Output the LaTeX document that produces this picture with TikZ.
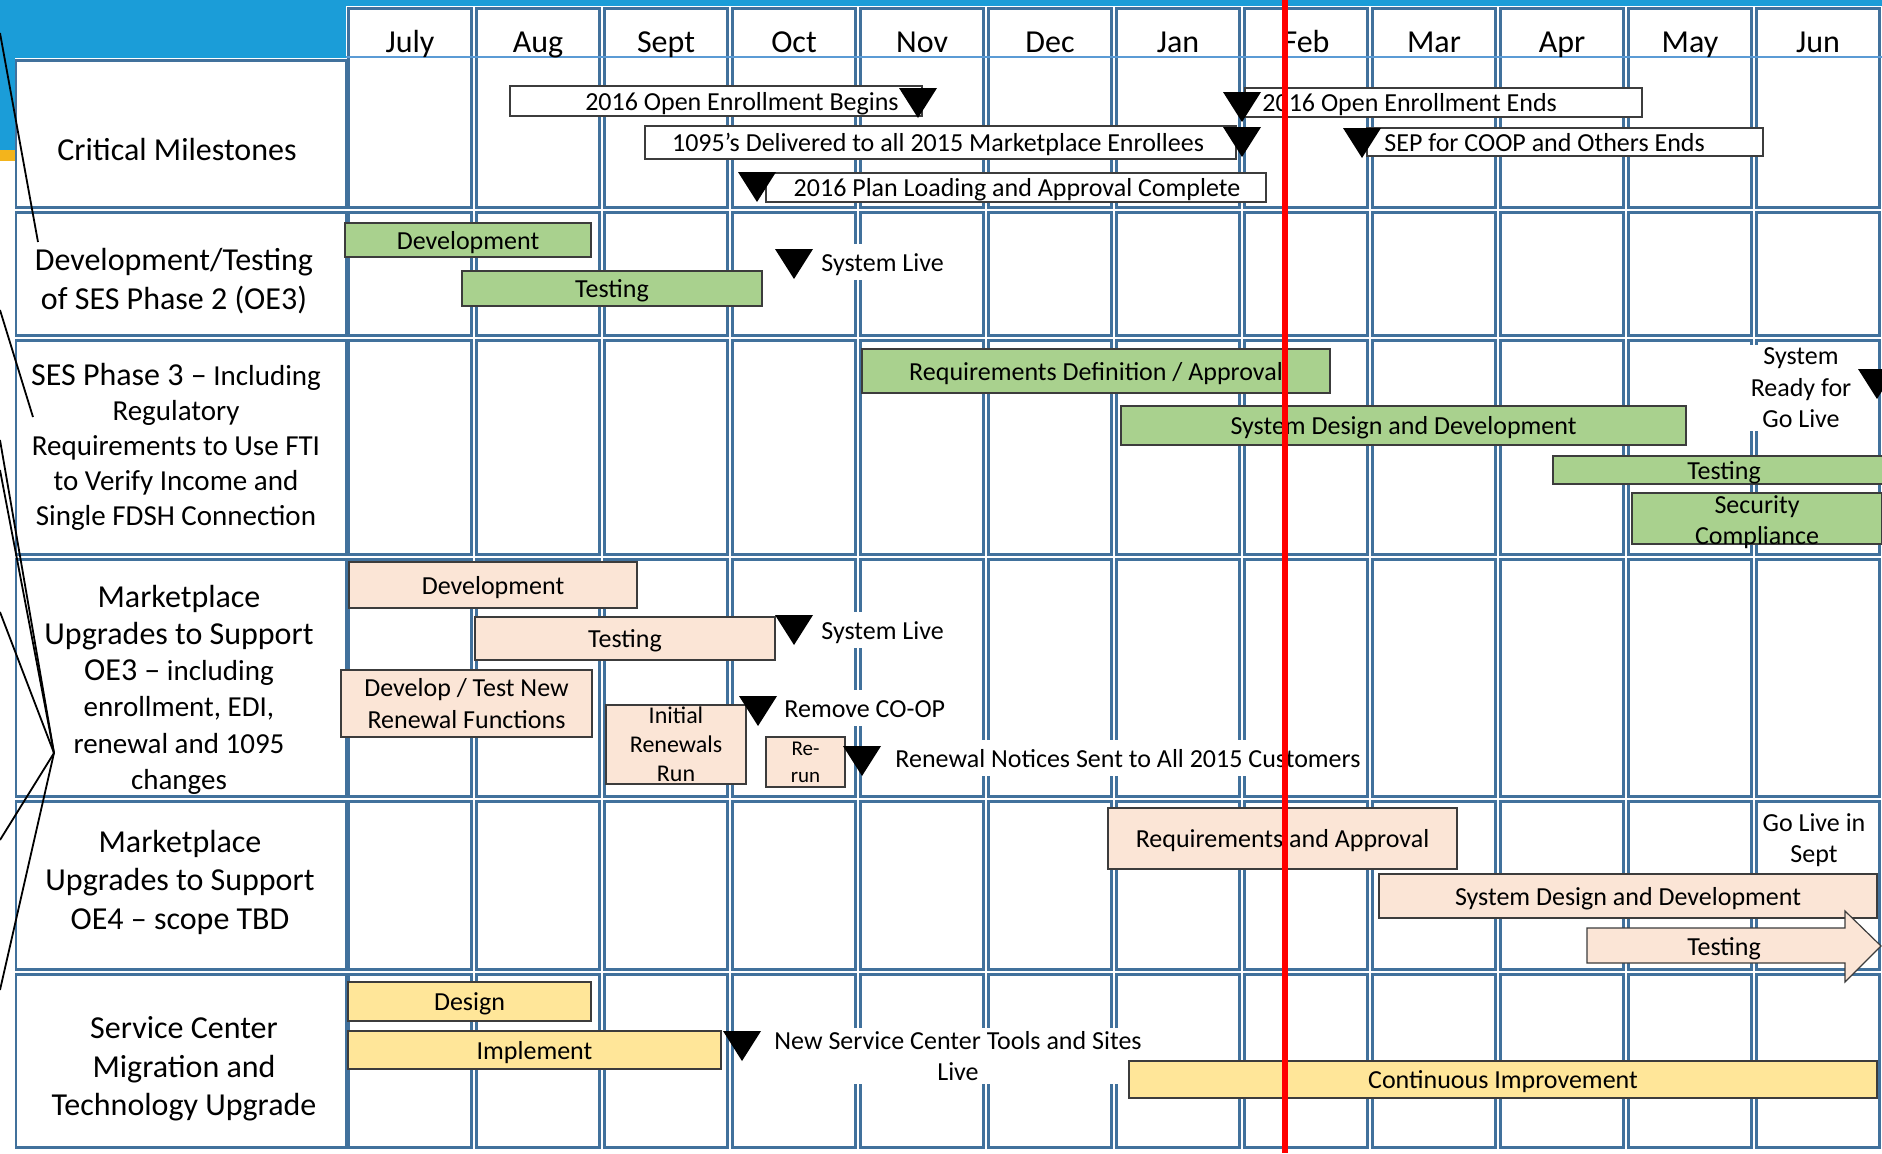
\documentclass[tikz,border=0pt]{standalone}
\usepackage{fontspec}
\setmainfont{Carlito}

\definecolor{gridblue}{RGB}{65,113,156}
\definecolor{headblue}{RGB}{91,155,213}
\definecolor{slideblue}{RGB}{27,157,216}
\definecolor{slideyellow}{RGB}{243,180,28}
\definecolor{bargreen}{RGB}{169,209,142}
\definecolor{barpeach}{RGB}{251,229,214}
\definecolor{baryellow}{RGB}{255,230,153}
\definecolor{baredge}{RGB}{60,60,60}

\tikzset{
	cell/.style={draw=gridblue, line width=1.25pt},
	bar/.style={draw=baredge, line width=0.6pt},
	greenbar/.style={bar, fill=bargreen},
	peachbar/.style={bar, fill=barpeach},
	yellowbar/.style={bar, fill=baryellow},
	msbox/.style={bar, fill=white},
	bartext/.style={font=\fontsize{13}{15.8}\selectfont, inner sep=0pt, text height=12pt, text depth=2.6pt},
	bartwo/.style={font=\fontsize{13}{15.8}\selectfont, inner sep=0pt, align=center},
	livetext/.style={bartext, fill=white, inner sep=1.5pt},
	livetwo/.style={bartwo, fill=white, inner sep=1.5pt},
	rowlabel/.style={font=\fontsize{16}{19.25}\selectfont, inner sep=0pt, align=center},
	monthlabel/.style={font=\fontsize{16}{19.25}\selectfont, inner sep=0pt, anchor=base},
	callout/.style={black, line width=0.9pt},
}

% milestone marker: x of the tip, y of the top edge
\newcommand{\milestone}[2]{\fill[black] (#1-19,#2) -- (#1+19,#2) -- (#1,#2+30) -- cycle;}

\begin{document}
\begin{tikzpicture}[x=0.5pt, y=-0.5pt]
	
	\useasboundingbox (0,0) rectangle (1882,1153);
	\clip (0,0) rectangle (1882,1153);
	
	% Slide background
	\fill[white] (0,0) rectangle (1882,1153);
	\fill[slideblue] (0,0) rectangle (1882,6);
	\fill[slideblue] (0,0) rectangle (346,58);
	\fill[slideblue] (0,58) rectangle (15,150);
	\fill[slideyellow] (0,150) rectangle (15,161);
	
	% Month columns
	\foreach \k in {0,...,11}
		\foreach \ya/\yb in {6/210,210/338,338/557,557/799,799/972,972/1150}
			\draw[cell] (346+128*\k+2.5,\ya+2.5) rectangle (474+128*\k-2.5,\yb-2.5);
	
	% Label column
	\foreach \ya/\yb in {58/210,210/338,338/557,557/799,799/972,972/1150}
		\draw[cell] (16,\ya+2.5) rectangle (346,\yb-2.5);
	
	\draw[headblue, line width=0.6pt] (346,57) -- (1882,57);
	
	\foreach \m [count=\k from 0] in {July,Aug,Sept,Oct,Nov,Dec,Jan,Feb,Mar,Apr,May,Jun}
		\node[monthlabel] (month\k) at (410+128*\k,52) {\m};
	
	% Row labels
	\node[rowlabel] (critLabel) at (177,149) {Critical Milestones};
	\node[rowlabel] (sesTwoLabel) at (174,281) {Development/Testing\\of SES Phase 2 (OE3)};
	\node[rowlabel, font=\fontsize{14.5}{17.5}\selectfont] (sesThreeLabel) at (176,447)
		{{\fontsize{16}{17.5}\selectfont SES Phase 3 –} Including\\Regulatory\\Requirements to Use FTI\\to Verify Income and\\Single FDSH Connection};
	\node[rowlabel, font=\fontsize{14.5}{18.2}\selectfont] (oeThreeLabel) at (179,690)
		{{\fontsize{16}{18.2}\selectfont Marketplace}\\{\fontsize{16}{18.2}\selectfont Upgrades to Support}\\{\fontsize{16}{18.2}\selectfont OE3 –} including\\enrollment, EDI,\\renewal and 1095\\changes};
	\node[rowlabel] (oeFourLabel) at (180,882) {Marketplace\\Upgrades to Support\\OE4 – scope TBD};
	\node[rowlabel] (serviceLabel) at (184,1069) {Service Center\\Migration and\\Technology Upgrade};
	
	% Critical milestones
	\draw[msbox] (510,86) rectangle (922,116);
	\node[bartext] (oeBegins) at (742,101) {2016 Open Enrollment Begins};
	\milestone{918}{88}
	
	\draw[msbox] (1245,88) rectangle (1642,117);
	\node[bartext, anchor=west] (oeEnds) at (1262,102) {2016 Open Enrollment Ends};
	\milestone{1242}{92}
	
	\draw[msbox] (645,126) rectangle (1236,159);
	\node[bartext] (formsSent) at (938,142) {1095’s Delivered to all 2015 Marketplace Enrollees};
	\milestone{1242}{127}
	
	\draw[msbox] (1367,128) rectangle (1763,156);
	\node[bartext, anchor=west] (sepEnds) at (1384,142) {SEP for COOP and Others Ends};
	\milestone{1362}{128}
	
	\draw[msbox] (766,173) rectangle (1266,202);
	\node[bartext] (planLoad) at (1017,187) {2016 Plan Loading and Approval Complete};
	\milestone{757}{172}
	
	% SES phase 2
	\draw[greenbar] (345,223) rectangle node[bartext] (devTwo) {Development} (591,257);
	\draw[greenbar] (462,271) rectangle node[bartext] (testTwo) {Testing} (762,306);
	\milestone{794}{249}
	\node[livetext, anchor=west] (liveTwo) at (818,262) {System Live};
	
	% SES phase 3
	\draw[greenbar] (862,349) rectangle node[bartext] (reqThree) {Requirements Definition / Approval} (1330,393);
	\draw[greenbar] (1121,406) rectangle node[bartext] (designThree) {System Design and Development} (1686,445);
	\draw[greenbar] (1553,456) rectangle node[bartext] (testThree) {Testing} (1895,484);
	\draw[greenbar] (1632,493) rectangle (1882,544);
	\node[bartwo] (secThree) at (1757,522) {Security\\Compliance};
	\node[livetwo] (readyThree) at (1801,388) {System\\Ready for\\Go Live};
	\milestone{1877}{369}
	
	% Marketplace OE3
	\draw[peachbar] (349,562) rectangle node[bartext] (devOE3) {Development} (637,608);
	\draw[peachbar] (475,617) rectangle node[bartext] (testOE3) {Testing} (775,660);
	\draw[peachbar] (341,670) rectangle node[bartwo] (renewDev) {Develop / Test New\\Renewal Functions} (592,737);
	\draw[peachbar] (606,705) rectangle node[bartwo, font=\fontsize{12}{14.5}\selectfont] (renewRun) {Initial\\Renewals\\Run} (746,784);
	\draw[peachbar] (766,737) rectangle node[bartwo, font=\fontsize{10.5}{13.5}\selectfont] (renewRerun) {Re-\\run} (845,787);
	\milestone{794}{615}
	\node[livetext, anchor=west] (liveOE3) at (818,630) {System Live};
	\milestone{758}{696}
	\node[livetext, anchor=west] (coopOut) at (781,708) {Remove CO-OP};
	\milestone{862}{746}
	\node[livetext, anchor=west] (noticesSent) at (892,758) {Renewal Notices Sent to All 2015 Customers};
	
	% Marketplace OE4
	\draw[peachbar] (1108,808) rectangle node[bartext] (reqOE4) {Requirements and Approval} (1457,869);
	\node[livetwo] (goLive) at (1814,840) {Go Live in\\Sept};
	\draw[peachbar] (1379,874) rectangle node[bartext] (designOE4) {System Design and Development} (1877,918);
	\draw[peachbar] (1587,928) -- (1845,928) -- (1845,911) -- (1881,946) -- (1845,982) -- (1845,963) -- (1587,963) -- cycle;
	\node[bartext] (testOE4) at (1724,946) {Testing};
	
	% Service center
	\draw[yellowbar] (348,982) rectangle node[bartext] (designSC) {Design} (591,1021);
	\draw[yellowbar] (348,1031) rectangle node[bartext] (implSC) {Implement} (721,1069);
	\milestone{742}{1031}
	\node[livetwo] (toolsLive) at (958,1056) {New Service Center Tools and Sites\\Live};
	\draw[yellowbar] (1129,1061) rectangle node[bartext] (improveSC) {Continuous Improvement} (1877,1098);
	
	% Today
	\draw[red, line width=3pt] (1285,0) -- (1285,1153);
	
	% Callout lines from the left
	\coordinate (hub) at (54,753);
	\draw[callout] (0,33) -- (38,242);
	\draw[callout] (0,310) -- (33,417);
	\draw[callout] (0,440) -- (hub);
	\draw[callout] (0,470) -- (hub);
	\draw[callout] (0,612) -- (hub);
	\draw[callout] (hub) -- (0,840);
	\draw[callout] (hub) -- (0,990);
	
\end{tikzpicture}
\end{document}
